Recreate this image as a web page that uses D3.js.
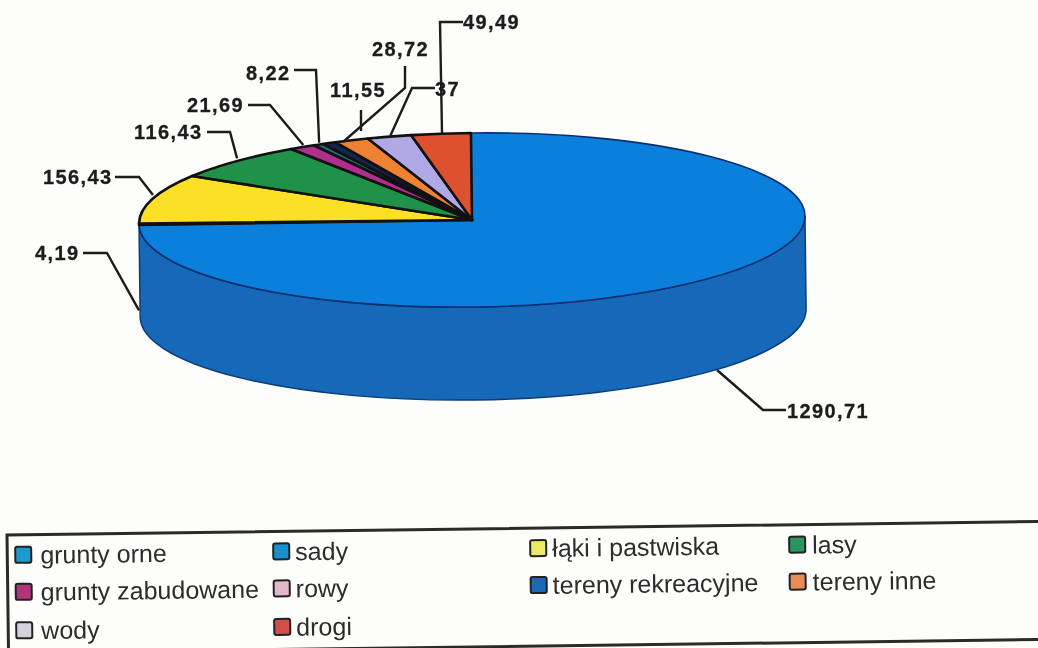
<!DOCTYPE html>
<html>
<head>
<meta charset="utf-8">
<script src="https://d3js.org/d3.v7.min.js"></script>
<style>
	html, body { margin: 0; padding: 0; background: #fdfdfb; }
	svg { display: block; filter: blur(0.6px); }
	.value { font: bold 20px "Liberation Sans", Arial, sans-serif; letter-spacing: 1.4px; fill: #1c1c1c; stroke: #1c1c1c; stroke-width: 0.3px; }
	.legend-label { font: 25px "Liberation Sans", Arial, sans-serif; fill: #2c2c2c; }
</style>
</head>
<body>
<div id="chart"></div>
<script>
const categories = ["grunty orne", "sady", "łąki i pastwiska", "lasy", "grunty zabudowane", "rowy", "tereny rekreacyjne", "tereny inne", "wody", "drogi"];
const values = [1290.71, 4.19, 156.43, 116.43, 21.69, 8.22, 11.55, 28.72, 37, 49.49];
const valueLabels = ["1290,71", "4,19", "156,43", "116,43", "21,69", "8,22", "11,55", "28,72", "37", "49,49"];
const sliceColors = ["#0b7fdc", "#0b7fdc", "#fbe026", "#1f9148", "#ae2f8e", "#1a6f80", "#14254f", "#ee8232", "#b1a9e6", "#de5130"];
const swatchColors = ["#1b9ad2", "#1b8fcb", "#efe866", "#2b9560", "#b3337f", "#e2b9c9", "#1a68b6", "#e98c55", "#d3d3de", "#d14e4e"];

// label placement, all by eye
const labelLayout = [
	{ x: 787, y: 418, elbows: [[786, 410], [763, 410]], end: [717, 370] },
	{ x: 35, y: 260, elbows: [[83, 253], [107, 253]], drop: 0.97 },
	{ x: 43, y: 184, elbows: [[115, 177], [139, 177]] },
	{ x: 134, y: 139, elbows: [[207, 132], [230, 132]] },
	{ x: 187, y: 112, elbows: [[248, 105], [270, 105]] },
	{ x: 246, y: 80, elbows: [[294, 70], [316, 70]] },
	{ x: 330, y: 97, elbows: [[361, 110]], end: [361, 131] },
	{ x: 372, y: 56, elbows: [[405, 66], [405, 88]], end: [343, 142] },
	{ x: 435, y: 96, elbows: [[435, 88], [412, 88]] },
	{ x: 463, y: 29, elbows: [[463, 22], [440, 22]] }
];

const w = 1038, h = 648;
const cx = 472, cy = 220, rx = 333, ry = 87, depth = 93;
const tilt = -0.7;

const svg = d3.select("#chart").append("svg")
	.attr("width", w)
	.attr("height", h);

const pie = d3.pie().sort(null).value((d) => { return d; });
const slices = pie(values);
const arc = d3.arc().innerRadius(0).outerRadius(rx);

// a point on the rim of the flattened pie
const rim = (angle) => {
	return [cx + rx * Math.sin(angle), cy - ry * Math.cos(angle)];
};

const pieGroup = svg.append("g")
	.attr("transform", "rotate(" + tilt + " " + cx + " " + cy + ")");

// side wall, lower half of the ellipse pushed down by depth
const wallPath = "M" + (cx - rx) + "," + cy
	+ "V" + (cy + depth)
	+ "A" + rx + "," + ry + " 0 0 0 " + (cx + rx) + "," + (cy + depth)
	+ "V" + cy
	+ "A" + rx + "," + ry + " 0 0 1 " + (cx - rx) + "," + cy + "Z";

pieGroup.append("path")
	.attr("d", wallPath)
	.attr("fill", "#1668b8")
	.attr("stroke", "#0d3c78")
	.attr("stroke-width", 1.5);

const topFace = pieGroup.append("g")
	.attr("transform", "translate(" + cx + "," + cy + ") scale(1," + (ry / rx) + ")");

topFace.selectAll("path")
	.data(slices)
	.enter().append("path")
	.attr("d", arc)
	.attr("fill", (d, i) => { return sliceColors[i]; })
	.attr("stroke", (d, i) => { return i == 0 ? "#0b2f70" : "#111"; })
	.attr("stroke-width", (d, i) => { return i == 0 ? 1.6 : 2.6; })
	.attr("stroke-linejoin", "round")
	.style("vector-effect", "non-scaling-stroke");

// leaders
const line = d3.line();

svg.selectAll("path.leader")
	.data(slices)
	.enter().append("path")
	.attr("class", "leader")
	.attr("fill", "none")
	.attr("stroke", "#1c1c1c")
	.attr("stroke-width", 2.4)
	.attr("d", (d, i) => {
		let layout = labelLayout[i];
		let end = layout.end;
		if (!end) {
			let p = rim((d.startAngle + d.endAngle) / 2);
			end = [p[0], p[1] + (layout.drop || 0) * depth];
		}
		return line(layout.elbows.concat([end]));
	});

svg.selectAll("text.value")
	.data(valueLabels)
	.enter().append("text")
	.attr("class", "value")
	.attr("x", (d, i) => { return labelLayout[i].x; })
	.attr("y", (d, i) => { return labelLayout[i].y; })
	.text((d) => { return d; });

// legend box, scanned slightly crooked
const legend = svg.append("g")
	.attr("transform", "translate(7,535) rotate(-0.75)");

legend.append("path")
	.attr("d", line([[1100, 0], [0, 0], [0, 118]]))
	.attr("fill", "none")
	.attr("stroke", "#2a2a2a")
	.attr("stroke-width", 3);

legend.append("line")
	.attr("x1", 0).attr("y1", 118)
	.attr("x2", 1100).attr("y2", 118)
	.attr("stroke", "#2a2a2a")
	.attr("stroke-width", 3);

const columnX = [8, 266, 523, 782];
const textOffset = [25, 22, 22, 23];
const rowY = [20, 57, 95.5];

const items = legend.selectAll("g.item")
	.data(categories)
	.enter().append("g")
	.attr("class", "item")
	.attr("transform", (d, i) => {
		return "translate(" + columnX[i % 4] + "," + rowY[Math.floor(i / 4)] + ")";
	});

items.append("rect")
	.attr("x", 0).attr("y", -8)
	.attr("width", 16).attr("height", 16)
	.attr("rx", 2)
	.attr("fill", (d, i) => { return swatchColors[i]; })
	.attr("stroke", "#222")
	.attr("stroke-width", 2);

items.append("text")
	.attr("class", "legend-label")
	.attr("x", (d, i) => { return textOffset[i % 4]; })
	.attr("y", 9)
	.text((d) => { return d; });
</script>
</body>
</html>
